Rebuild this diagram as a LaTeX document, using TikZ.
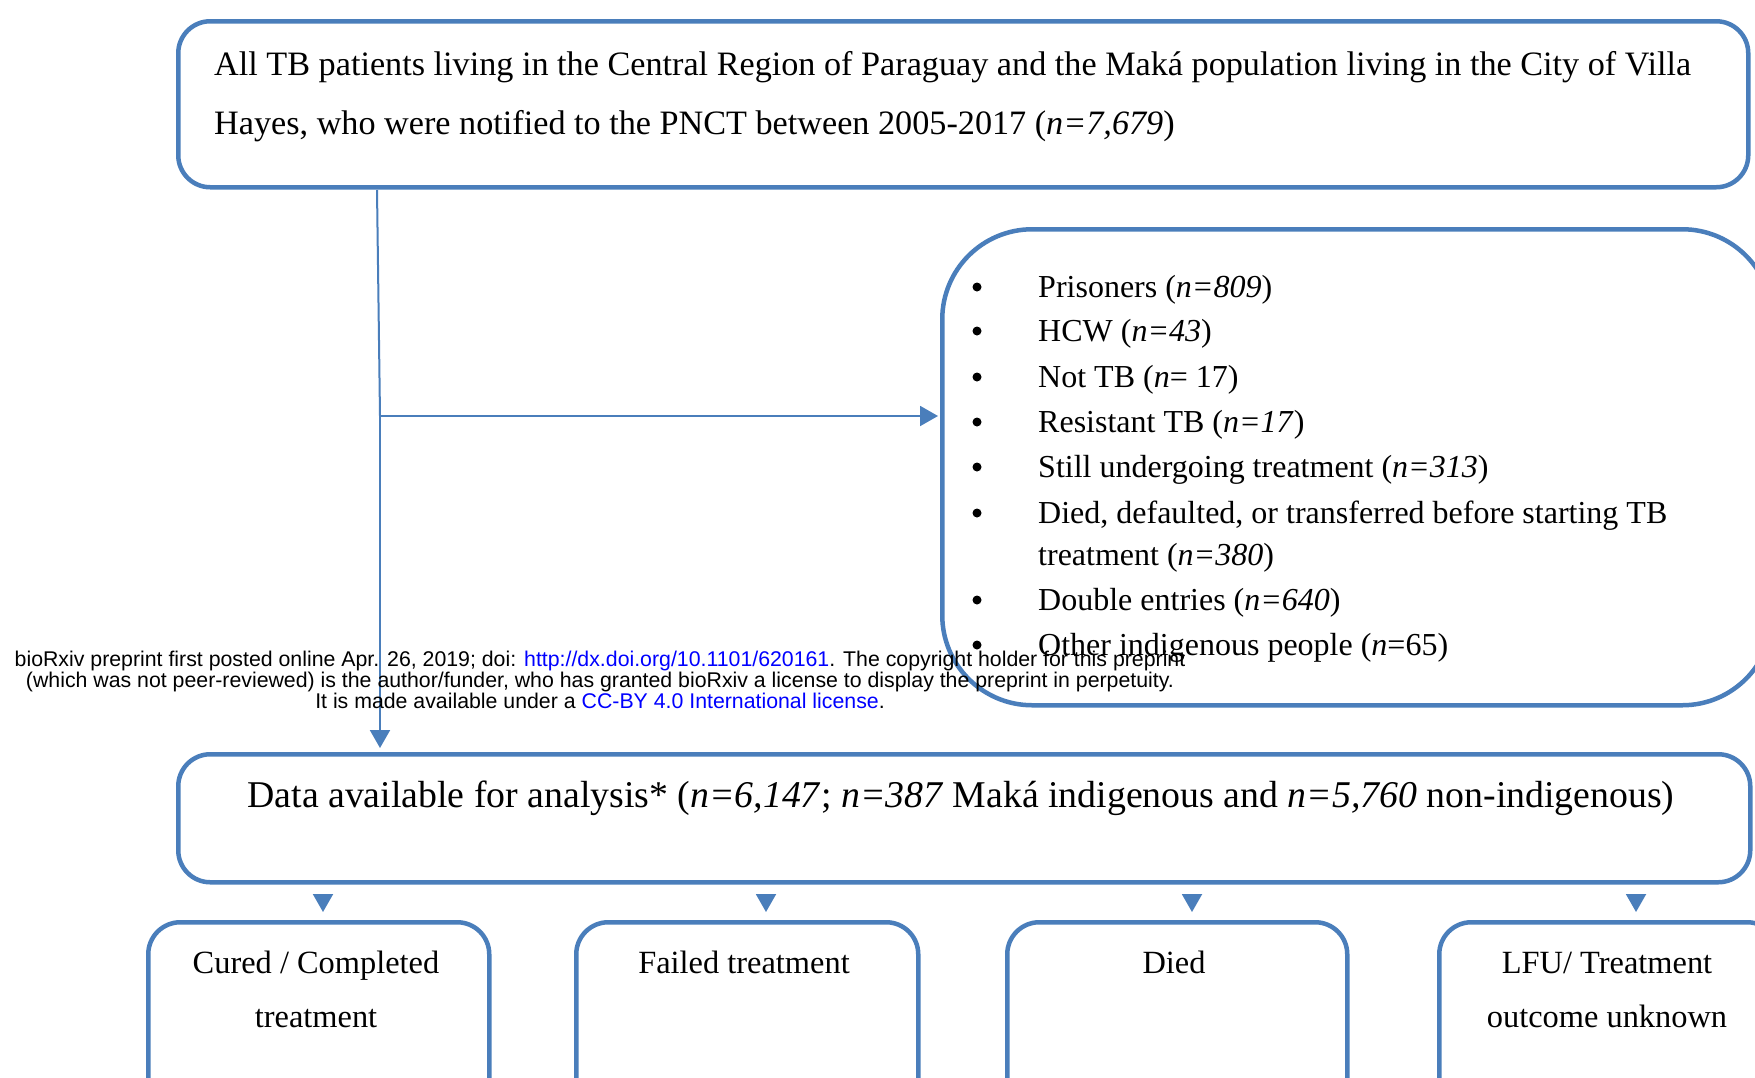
\documentclass[tikz,border=0pt]{standalone}
\usepackage{fontspec}
\setmainfont{Liberation Serif}
\newfontfamily\wmfont{Liberation Sans}
\usetikzlibrary{arrows.meta}
\definecolor{boxblue}{HTML}{4A7EBB}
\definecolor{linkblue}{RGB}{0,0,255}
\begin{document}
\begin{tikzpicture}[x=1pt,y=-1pt,
  boxshape/.style={draw=boxblue, line width=4.5pt, rounded corners=#1, inner sep=0pt, anchor=north west},
  boxshape/.default=32pt,
  txt/.style={inner sep=0pt, anchor=base west, font=\fontsize{32}{40}\selectfont},
  ctxt/.style={inner sep=0pt, anchor=base, font=\fontsize{32.4}{40}\selectfont},
  bulletdot/.style={circle, fill=black, inner sep=0pt, minimum size=9pt},
  conn/.style={draw=boxblue, line width=2pt, -{Triangle[width=20pt,length=18pt]}},
  wm/.style={inner sep=0pt, anchor=base, font=\wmfont\fontsize{21.3}{22}\selectfont}
]
\useasboundingbox[fill=white] (0,0) rectangle (1755,1077);

% top box
\node[boxshape, minimum width=1570pt, minimum height=166pt] (top) at (176,19) {};
\node[txt, font=\fontsize{34.2}{40}\selectfont] (top1) at (214,75) {All TB patients living in the Central Region of Paraguay and the Maká population living in the City of Villa};
\node[txt, font=\fontsize{34.2}{40}\selectfont] (top2) at (214,134) {Hayes, who were notified to the PNCT between 2005-2017 (\textit{n=7,679})};

% exclusion box
\node[boxshape=90pt, minimum width=830pt, minimum height=476pt] (excl) at (940,227) {};
\foreach \i/\y/\b/\t in {
  1/297/1/{Prisoners (\textit{n=809})},
  2/341/1/{HCW (\textit{n=43})},
  3/387/1/{Not TB (\textit{n}= 17)},
  4/432/1/{Resistant TB (\textit{n=17})},
  5/477/1/{Still undergoing treatment (\textit{n=313})},
  6/523/1/{Died, defaulted, or transferred before starting TB},
  7/565/0/{treatment (\textit{n=380})},
  8/610/1/{Double entries (\textit{n=640})},
  9/655/1/{Other indigenous people (\textit{n}=65)}}{
  \node[txt] (item\i) at (1038,\y) {\t};
  \ifnum\b=1 \node[bulletdot] (bul\i) at (977,\y-10) {};\fi
}

% data box
\node[boxshape, minimum width=1572pt, minimum height=128pt] (data) at (176,752) {};
\node[ctxt, font=\fontsize{37.8}{40}\selectfont] (datatext) at (961,807) {Data available for analysis* (\textit{n=6,147}; \textit{n=387} Maká indigenous and \textit{n=5,760} non-indigenous)};

% outcome boxes
\node[boxshape, minimum width=341pt, minimum height=190pt] (cured) at (146,920) {};
\node[boxshape, minimum width=342pt, minimum height=190pt] (failed) at (574,920) {};
\node[boxshape, minimum width=340pt, minimum height=190pt] (died) at (1005,920) {};
\node[boxshape, minimum width=340pt, minimum height=190pt] (lfu) at (1437,920) {};

\node[ctxt] (cured1) at (316,973) {Cured / Completed};
\node[ctxt] (cured2) at (316,1027) {treatment};
\node[ctxt] (failed1) at (744,973) {Failed treatment};
\node[ctxt] (died1) at (1174,973) {Died};
\node[ctxt] (lfu1) at (1607,973) {LFU/ Treatment};
\node[ctxt] (lfu2) at (1607,1027) {outcome unknown};

% connectors
\coordinate (vtop) at (377,190);
\coordinate (branch) at (380,416);
\draw[conn, -] (vtop) -- (branch);
\draw[conn, shorten >=4pt] (branch) -- (branch |- data.north);
\draw[conn, shorten >=2pt] (branch) -- (branch -| excl.west);
\foreach \x/\n in {323/cured, 766/failed, 1192/died, 1636/lfu}{
  \draw[conn, shorten <=10pt, shorten >=8pt] (data.south -| \x,0) -- (\n.north -| \x,0);
}

% watermark
\node[wm] (wm1) at (600,666) {bioRxiv preprint first posted online Apr. 26, 2019; doi: \textcolor{linkblue}{http://dx.doi.org/10.1101/620161}. The copyright holder for this preprint};
\node[wm] (wm2) at (600,687) {(which was not peer-reviewed) is the author/funder, who has granted bioRxiv a license to display the preprint in perpetuity.};
\node[wm] (wm3) at (600,708) {It is made available under a \textcolor{linkblue}{CC-BY 4.0 International license}.};
\end{tikzpicture}
\end{document}
